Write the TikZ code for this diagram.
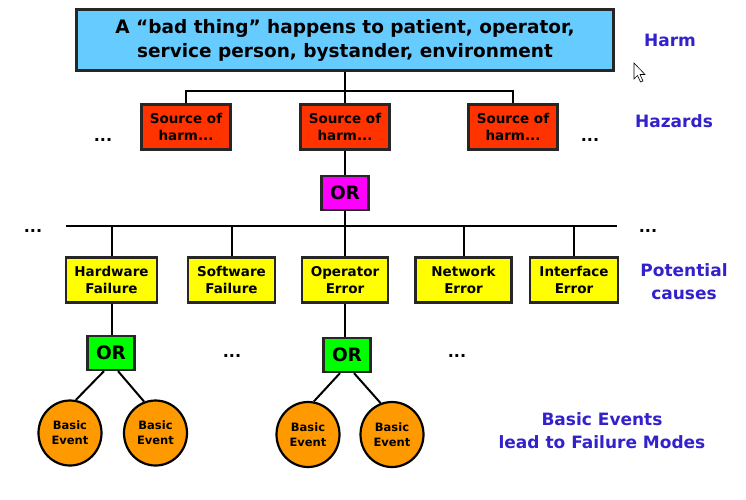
\documentclass[tikz,border=0pt]{standalone}
\usepackage{fontspec}
\setmainfont{DejaVu Sans}
\usetikzlibrary{shapes.geometric}
\definecolor{harmblue}{HTML}{66CCFF}
\definecolor{hazred}{HTML}{FF3300}
\definecolor{ormag}{HTML}{FF00FF}
\definecolor{causeyel}{HTML}{FFFF00}
\definecolor{orgreen}{HTML}{00FF00}
\definecolor{evorange}{HTML}{FF9900}
\definecolor{lblblue}{HTML}{3322CC}
\begin{document}
\begin{tikzpicture}[x=1pt,y=-1pt,
  box/.style={draw=black!85,line width=2.2pt,inner sep=0pt,align=center,font=\bfseries},
  topbox/.style={box,fill=harmblue,minimum width=537pt,minimum height=61pt,font=\bfseries\fontsize{18.5}{24}\selectfont},
  hazbox/.style={box,fill=hazred,minimum width=89pt,minimum height=45pt,font=\bfseries\fontsize{13.5}{17}\selectfont},
  causebox/.style={box,fill=causeyel,minimum height=45pt,font=\bfseries\fontsize{13.5}{17}\selectfont},
  orbox/.style={box,minimum width=47pt,minimum height=34pt,font=\bfseries\fontsize{18.5}{20}\selectfont},
  event/.style={ellipse,draw=black,line width=2.2pt,fill=evorange,minimum width=63pt,minimum height=65pt,inner sep=0pt,align=center,font=\bfseries\fontsize{11.5}{15}\selectfont},
  conn/.style={draw=black,line width=2pt},
  dots/.style={anchor=base,font=\bfseries\fontsize{16}{16}\selectfont,inner sep=0pt},
  lbl/.style={text=lblblue,align=center,font=\bfseries\fontsize{17}{23}\selectfont}]
\useasboundingbox (0,0) rectangle (746,499);
\fill[white] (0,0) rectangle (746,499);

% Top event
\node[topbox] (top) at (345,40) {A “bad thing” happens to patient, operator,\\service person, bystander, environment};

% Hazards
\node[hazbox] (h1) at (186,127) {Source of\\harm...};
\node[hazbox] (h2) at (345,127) {Source of\\harm...};
\node[hazbox] (h3) at (513,127) {Source of\\harm...};
\coordinate (hbar) at (345,91);
\draw[conn] (top.south) -- (hbar);
\draw[conn] (h1.north) |- (hbar) -| (h3.north);
\draw[conn] (hbar) -- (h2.north);
\node[dots] (d1) at (103,141) {...};
\node[dots] (d2) at (590,141) {...};

% OR gate
\node[orbox,fill=ormag] (or0) at (345,193) {OR};
\draw[conn] (h2.south) -- (or0.north);

% Causes bar
\coordinate (cbar) at (345,226);
\coordinate (cbl) at (66,226);
\coordinate (cbr) at (617,226);
\draw[conn] (or0.south) -- (cbar);
\draw[conn] (cbl) -- (cbr);
\node[dots] (d3) at (33,232) {...};
\node[dots] (d4) at (648,232) {...};

\node[causebox,minimum width=91pt] (c1) at (111.5,280) {Hardware\\Failure};
\node[causebox,minimum width=87pt] (c2) at (231.5,280) {Software\\Failure};
\node[causebox,minimum width=86pt] (c3) at (345,280) {Operator\\Error};
\node[causebox,minimum width=96pt] (c4) at (463.5,280) {Network\\Error};
\node[causebox,minimum width=88pt] (c5) at (574,280) {Interface\\Error};
\foreach \c in {c1,c2,c3,c4,c5}{
  \draw[conn] (\c.north) -- (\c.north |- cbar);
}

% Lower OR gates
\node[orbox,fill=orgreen] (or1) at (111,353) {OR};
\node[orbox,fill=orgreen] (or2) at (347,355) {OR};
\draw[conn] (c1.south) -- (c1.south |- or1.north);
\draw[conn] (c3.south) -- (c3.south |- or2.north);
\node[dots] (d5) at (232,357) {...};
\node[dots] (d6) at (457,357) {...};

% Basic events
\node[event] (e1) at (70,433) {Basic\\Event};
\node[event] (e2) at (155.5,433) {Basic\\Event};
\node[event] (e3) at (308,434.5) {Basic\\Event};
\node[event] (e4) at (392,434.5) {Basic\\Event};
\draw[conn] ([xshift=-7pt]or1.south) -- (e1.80);
\draw[conn] ([xshift=7pt]or1.south) -- (e2.110);
\draw[conn] ([xshift=-7pt]or2.south) -- (e3.80);
\draw[conn] ([xshift=7pt]or2.south) -- (e4.110);

% Labels
\node[lbl] (lh) at (670,40) {Harm};
\node[lbl] (lz) at (674,121) {Hazards};
\node[lbl] (lp) at (684,282) {Potential\\causes};
\node[lbl] (lb) at (602,431) {Basic Events\\lead to Failure Modes};

% Mouse cursor
\draw[black,fill=white,line width=0.6pt,line join=miter]
  (634,63) -- (634,79) -- (637.5,75.5) -- (640.5,82) -- (643,81) -- (640,74.5) -- (645,74.5) -- cycle;
\end{tikzpicture}
\end{document}
